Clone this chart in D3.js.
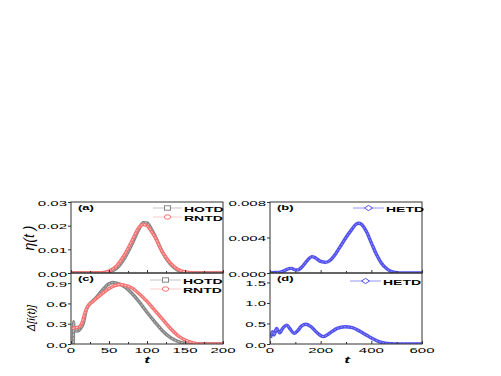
<!DOCTYPE html>
<html>
<head>
<meta charset="utf-8">
<script src="https://cdn.jsdelivr.net/npm/d3@7"></script>
<style>
body { margin: 0; background: #fff; }
text { font-family: "Liberation Sans", Arial, sans-serif; fill: #000; }
</style>
</head>
<body>
<svg width="501" height="376" id="content"></svg>
<script>
// values
var hotdN = [[0,0],[40,0],[50,0.0005],[60,0.002],[70,0.006],[80,0.012],[90,0.019],[95,0.0213],[100,0.0212],[105,0.019],[110,0.016],[120,0.009],[130,0.004],[140,0.0013],[150,0.0003],[160,0],[200,0]];
var rntdN = [[0,0],[40,0.0001],[50,0.0008],[60,0.003],[70,0.0075],[80,0.0135],[90,0.0195],[95,0.0205],[100,0.02],[105,0.018],[110,0.0155],[120,0.009],[130,0.0045],[140,0.0017],[150,0.0005],[160,0.0001],[170,0],[200,0]];
var hotdD = [[0,0],[3,0],[3.5,0.33],[4,0.2],[8,0.19],[12,0.22],[16,0.3],[20,0.5],[25,0.6],[30,0.65],[40,0.78],[50,0.89],[55,0.91],[60,0.9],[70,0.85],[80,0.75],[90,0.62],[100,0.47],[110,0.33],[120,0.2],[130,0.1],[140,0.04],[150,0.01],[160,0],[200,0]];
var rntdD = [[2,0.23],[5,0.24],[10,0.25],[14,0.3],[18,0.45],[22,0.56],[28,0.62],[35,0.69],[45,0.78],[55,0.85],[65,0.88],[70,0.87],[80,0.83],[90,0.74],[100,0.63],[110,0.5],[120,0.37],[130,0.24],[140,0.13],[150,0.06],[160,0.02],[170,0],[200,0]];
var hetdN = [[0,0],[20,0.00005],[40,0.0001],[60,0.0003],[75,0.0005],[85,0.00052],[100,0.00035],[110,0.00035],[130,0.0008],[150,0.0015],[165,0.00185],[180,0.0017],[200,0.0013],[220,0.0012],[240,0.0015],[260,0.0022],[280,0.0031],[300,0.004],[320,0.0048],[340,0.0055],[350,0.0056],[360,0.0055],[380,0.0047],[400,0.0034],[420,0.0021],[440,0.0011],[460,0.0005],[480,0.00015],[500,0.00003],[520,0],[600,0]];
var hetdD = [[2,0.15],[10,0.3],[16,0.22],[26,0.38],[38,0.27],[50,0.38],[66,0.46],[80,0.36],[95,0.26],[110,0.33],[125,0.44],[142,0.48],[160,0.43],[185,0.28],[210,0.18],[235,0.26],[265,0.38],[296,0.42],[325,0.4],[355,0.31],[380,0.22],[408,0.12],[430,0.06],[450,0.025],[480,0.005],[500,0],[600,0]];

var ticksA = [0, 0.01, 0.02, 0.03];
var ticksB = [0, 0.004, 0.008];
var ticksC = [0, 0.3, 0.6, 0.9];
var ticksD = [0, 0.5, 1.0, 1.5];
var ticksXL = [0, 50, 100, 150, 200];
var ticksXR = [0, 200, 400, 600];

var svg = d3.select("svg");
var SQ = 0.53; // the picture's text is squashed vertically

var xL = d3.scaleLinear().domain([0, 200]).range([71, 223]);
var xR = d3.scaleLinear().domain([0, 600]).range([270, 422]);
var yA = d3.scaleLinear().domain([0, 0.03]).range([273, 202]);
var yC = d3.scaleLinear().domain([0, 1.05]).range([344, 273]);
var yB = d3.scaleLinear().domain([0, 0.008]).range([273, 202]);
var yD = d3.scaleLinear().domain([0, 1.73]).range([344, 273]);

function label(x, y, s, opts) {
	opts = opts || {};
	return svg.append("text")
	.attr("transform", "translate(" + x + "," + y + ") scale(1," + SQ + ")")
	.attr("text-anchor", opts.anchor || "start")
	.style("font-size", (opts.size || 15) + "px")
	.style("font-weight", opts.bold ? "bold" : "normal")
	.style("font-style", opts.italic ? "italic" : "normal")
	.text(s);
}

var styles = {
	hotd: {outer: "#858585", inner: "#c4c4c4"},
	rntd: {outer: "#f47272", inner: "#ffcaca"},
	hetd: {outer: "#5050ee", inner: "#9494f6"}
};

function panel(x, y, yt, fmt, showX, xt, series, tag) {
	var g = svg.append("g");
	var clipId = "clip" + tag;
	svg.append("clipPath").attr("id", clipId).append("rect")
	.attr("x", x.range()[0]).attr("y", y.range()[1])
	.attr("width", x.range()[1] - x.range()[0])
	.attr("height", y.range()[0] - y.range()[1]);

	var line = d3.line().x(function(d) { return x(d[0]); }).y(function(d) { return y(d[1]); })
	.curve(d3.curveMonotoneX);
	var cg = g.append("g").attr("clip-path", "url(#" + clipId + ")");
	series.forEach(function(s) {
		var st = styles[s.key];
		cg.append("path").attr("d", line(s.data)).attr("fill", "none")
		.attr("stroke", st.outer).attr("stroke-width", 3.4).attr("stroke-linejoin", "round");
		cg.append("path").attr("d", line(s.data)).attr("fill", "none")
		.attr("stroke", st.inner).attr("stroke-width", 1).attr("stroke-dasharray", "2,1.5");
	});

	// frame
	g.append("rect").attr("x", x.range()[0]).attr("y", y.range()[1])
	.attr("width", x.range()[1] - x.range()[0]).attr("height", y.range()[0] - y.range()[1])
	.attr("fill", "none").attr("stroke", "#333").attr("stroke-width", 1);

	// y ticks (outward)
	var yax = g.append("g").attr("transform", "translate(" + x.range()[0] + ",0)")
	.call(d3.axisLeft(y).tickValues(yt).tickSize(3).tickFormat(d3.format(fmt)));
	yax.select(".domain").remove();
	yax.selectAll("line").attr("stroke", "#333");
	yax.selectAll("text").remove();
	yt.forEach(function(v) {
		label(x.range()[0] - 4, y(v) + 3.5, d3.format(fmt)(v), {anchor: "end"});
	});

	// x ticks (inward), minor between majors
	var major = xt;
	var minor = d3.range(major.length - 1).map(function(i) { return (major[i] + major[i + 1]) / 2; });
	var xax = g.append("g").attr("transform", "translate(0," + y.range()[0] + ")")
	.call(d3.axisBottom(x).tickValues(major).tickSize(-3).tickFormat(""));
	xax.select(".domain").remove();
	xax.selectAll("line").attr("stroke", "#333");
	var xmin = g.append("g").attr("transform", "translate(0," + y.range()[0] + ")")
	.call(d3.axisBottom(x).tickValues(minor).tickSize(-2).tickFormat(""));
	xmin.select(".domain").remove();
	xmin.selectAll("line").attr("stroke", "#333");
	if (showX) {
		major.forEach(function(v) {
			label(x(v), 353, String(v), {anchor: "middle"});
		});
	}
}

function legendItem(x0, x1, y, key, shape, name) {
	var st = styles[key];
	svg.append("line").attr("x1", x0).attr("x2", x1).attr("y1", y).attr("y2", y)
	.attr("stroke", st.inner).attr("stroke-width", 1);
	var cx = (x0 + x1) / 2;
	if (shape === "square") {
		svg.append("rect").attr("x", cx - 3).attr("y", y - 2.2).attr("width", 6).attr("height", 4.4)
		.attr("fill", "#fff").attr("stroke", st.outer).attr("stroke-width", 1);
	} else if (shape === "circle") {
		svg.append("ellipse").attr("cx", cx).attr("cy", y).attr("rx", 3.2).attr("ry", 2.2)
		.attr("fill", "#fff").attr("stroke", st.outer).attr("stroke-width", 1);
	} else {
		svg.append("path").attr("d", "M" + (cx - 4) + "," + y + "L" + cx + "," + (y - 2.6) + "L" + (cx + 4) + "," + y + "L" + cx + "," + (y + 2.6) + "Z")
		.attr("fill", "#fff").attr("stroke", st.outer).attr("stroke-width", 1);
	}
	label(x1 + 2, y + 3.8, name, {bold: true, size: 14});
}

panel(xL, yA, ticksA, ".2f", false, ticksXL, [{key: "hotd", data: hotdN}, {key: "rntd", data: rntdN}], "a");
panel(xL, yC, ticksC, ".1f", true, ticksXL, [{key: "hotd", data: hotdD}, {key: "rntd", data: rntdD}], "c");
panel(xR, yB, ticksB, ".3f", false, ticksXR, [{key: "hetd", data: hetdN}], "b");
panel(xR, yD, ticksD, ".1f", true, ticksXR, [{key: "hetd", data: hetdD}], "d");

// panel tags
label(78, 210, "(a)", {size: 13, bold: true});
label(277, 210, "(b)", {size: 13, bold: true});
label(78, 281, "(c)", {size: 13, bold: true});
label(277, 281, "(d)", {size: 13, bold: true});

// legends
legendItem(153, 182, 208, "hotd", "square", "HOTD");
legendItem(153, 182, 217, "rntd", "circle", "RNTD");
legendItem(150, 181, 280, "hotd", "square", "HOTD");
legendItem(150, 181, 289, "rntd", "circle", "RNTD");
legendItem(353, 384, 208, "hetd", "diamond", "HETD");
legendItem(350, 381, 281, "hetd", "diamond", "HETD");

// axis titles
label(147, 363, "t", {size: 17, bold: true, italic: true, anchor: "middle"});
label(347, 363, "t", {size: 17, bold: true, italic: true, anchor: "middle"});

svg.append("text")
.attr("transform", "translate(34,238) rotate(-90)")
.attr("text-anchor", "middle")
.style("font-size", "14px").style("font-style", "italic")
.text("\u03b7(t )");
svg.append("text")
.attr("transform", "translate(35,318) rotate(-90)")
.attr("text-anchor", "middle")
.style("font-size", "11px").style("font-style", "italic")
.text("\u0394[i(t)]");
</script>
</body>
</html>
